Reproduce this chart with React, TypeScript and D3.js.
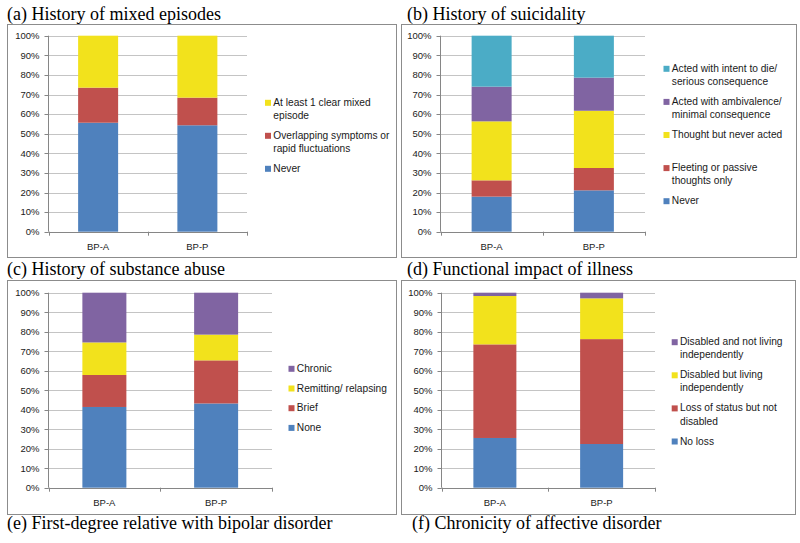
import React from "react";
import * as d3 from "d3";

// ---------- data ----------
const categories = ["BP-A", "BP-P"];
const yTickValues = [0, 10, 20, 30, 40, 50, 60, 70, 80, 90, 100];

// (a) History of mixed episodes
const mixedNever = [55.6, 54.3];
const mixedOverlapping = [17.9, 14.1];
const mixedClear = [26.5, 31.6];

// (b) History of suicidality
const suicNever = [17.9, 21.1];
const suicFleeting = [8.3, 11.4];
const suicThought = [30.1, 29.2];
const suicAmbivalence = [17.7, 16.9];
const suicIntent = [26.0, 21.4];

// (c) History of substance abuse
const subNone = [41.4, 43.2];
const subBrief = [16.4, 22.1];
const subRemitting = [16.7, 13.2];
const subChronic = [25.5, 21.5];

// (d) Functional impact of illness
const funcNoLoss = [25.5, 22.4];
const funcLossStatus = [48.0, 53.8];
const funcDisabledLiving = [24.8, 20.9];
const funcDisabledNot = [1.7, 2.9];

const titles = [
  "(a) History of mixed episodes",
  "(b) History of suicidality",
  "(c) History of substance abuse",
  "(d) Functional impact of illness",
  "(e) First-degree relative with bipolar disorder",
  "(f) Chronicity of affective disorder",
];

// ---------- styles ----------
const BLUE = "#4F81BD";
const RED = "#C0504D";
const YELLOW = "#F2E21C";
const PURPLE = "#8064A2";
const TEAL = "#4BACC6";

type Series = { lines: string[]; values: number[]; color: string };
type PanelCfg = {
  title: string;
  titleX: number;
  titleY: number;
  box: [number, number, number, number];
  plot: { x0: number; x1: number; y0: number; y1: number };
  barWidth: number;
  series: Series[];
  legend: { x: number; y: number; step: number };
};

const panels: PanelCfg[] = [
  {
    title: titles[0],
    titleX: 7,
    titleY: 19.5,
    box: [7.5, 24.5, 396.5, 257.5],
    plot: { x0: 48.5, x1: 247, y0: 35.7, y1: 231.7 },
    barWidth: 40,
    series: [
      { lines: ["Never"], values: mixedNever, color: BLUE },
      { lines: ["Overlapping symptoms or", "rapid fluctuations"], values: mixedOverlapping, color: RED },
      { lines: ["At least 1 clear mixed", "episode"], values: mixedClear, color: YELLOW },
    ],
    legend: { x: 265, y: 102.3, step: 33 },
  },
  {
    title: titles[1],
    titleX: 407,
    titleY: 19.5,
    box: [401.5, 24.5, 796.5, 257.5],
    plot: { x0: 440.5, x1: 645, y0: 35.7, y1: 231.7 },
    barWidth: 40,
    series: [
      { lines: ["Never"], values: suicNever, color: BLUE },
      { lines: ["Fleeting or passive", "thoughts only"], values: suicFleeting, color: RED },
      { lines: ["Thought but never acted"], values: suicThought, color: YELLOW },
      { lines: ["Acted with ambivalence/", "minimal consequence"], values: suicAmbivalence, color: PURPLE },
      { lines: ["Acted with intent to die/", "serious consequence"], values: suicIntent, color: TEAL },
    ],
    legend: { x: 663.5, y: 68.3, step: 33.1 },
  },
  {
    title: titles[2],
    titleX: 7,
    titleY: 275,
    box: [7.5, 280.5, 396.5, 514.5],
    plot: { x0: 48.5, x1: 272, y0: 292.7, y1: 487.7 },
    barWidth: 44,
    series: [
      { lines: ["None"], values: subNone, color: BLUE },
      { lines: ["Brief"], values: subBrief, color: RED },
      { lines: ["Remitting/ relapsing"], values: subRemitting, color: YELLOW },
      { lines: ["Chronic"], values: subChronic, color: PURPLE },
    ],
    legend: { x: 288.5, y: 368.3, step: 19.7 },
  },
  {
    title: titles[3],
    titleX: 407,
    titleY: 275,
    box: [401.5, 280.5, 795.5, 514.5],
    plot: { x0: 441.5, x1: 655, y0: 292.7, y1: 487.7 },
    barWidth: 43,
    series: [
      { lines: ["No loss"], values: funcNoLoss, color: BLUE },
      { lines: ["Loss of status but not", "disabled"], values: funcLossStatus, color: RED },
      { lines: ["Disabled but living", "independently"], values: funcDisabledLiving, color: YELLOW },
      { lines: ["Disabled and not living", "independently"], values: funcDisabledNot, color: PURPLE },
    ],
    legend: { x: 671.7, y: 341.7, step: 33.1 },
  },
];

const SANS = "'Liberation Sans', Arial, sans-serif";
const SERIF = "'Liberation Serif', 'Times New Roman', serif";
const FS = 9.5;
const LFS = 10.2;
const LINE_H = 13.1;
const TEXT = "#1a1a1a";

function Panel({ cfg }: { cfg: PanelCfg }) {
  const { plot, box, series, legend } = cfg;
  const y = d3.scaleLinear().domain([0, 100]).range([plot.y1, plot.y0]);
  const x = d3.scaleBand<string>().domain(categories).range([plot.x0, plot.x1]).padding(0);
  const keys = series.map((_, i) => `s${i}`);
  const rows = categories.map((c, ci) => {
    const r: Record<string, any> = { cat: c };
    series.forEach((s, i) => (r[`s${i}`] = s.values[ci]));
    return r;
  });
  const stacked = d3.stack<Record<string, any>>().keys(keys)(rows);
  const fmt = (v: number) => `${v}%`;
  const boundaries = [plot.x0, ...categories.map((c) => (x(c) as number) + x.bandwidth())];

  const legendOrder = series.map((s, i) => ({ s, i })).reverse();

  return (
    <g>
      <rect
        x={box[0]}
        y={box[1]}
        width={box[2] - box[0]}
        height={box[3] - box[1]}
        fill="#fff"
        stroke="#8c8c8c"
        strokeWidth={1}
      />
      {yTickValues.map((t) => (
        <line
          key={`g${t}`}
          x1={plot.x0}
          x2={plot.x1}
          y1={Math.round(y(t)) + 0.5}
          y2={Math.round(y(t)) + 0.5}
          stroke="#c4c4c4"
          strokeWidth={1}
        />
      ))}
      {stacked.map((layer, li) =>
        layer.map((d, di) => {
          const cat = categories[di];
          const cx = (x(cat) as number) + x.bandwidth() / 2;
          return (
            <rect
              key={`b${li}-${di}`}
              x={cx - cfg.barWidth / 2}
              y={y(d[1])}
              width={cfg.barWidth}
              height={y(d[0]) - y(d[1])}
              fill={series[li].color}
            />
          );
        })
      )}
      <line x1={plot.x0} x2={plot.x0} y1={plot.y0} y2={plot.y1} stroke="#868686" />
      {yTickValues.map((t) => (
        <g key={`t${t}`}>
          <line
            x1={plot.x0 - 4}
            x2={plot.x0}
            y1={Math.round(y(t)) + 0.5}
            y2={Math.round(y(t)) + 0.5}
            stroke="#868686"
          />
          <text
            x={plot.x0 - 9}
            y={y(t)}
            dy="0.35em"
            textAnchor="end"
            fontFamily={SANS}
            fontSize={FS}
            fill={TEXT}
          >
            {fmt(t)}
          </text>
        </g>
      ))}
      <line
        x1={plot.x0}
        x2={plot.x1}
        y1={Math.round(plot.y1) + 0.5}
        y2={Math.round(plot.y1) + 0.5}
        stroke="#868686"
      />
      {boundaries.map((bx, i) => (
        <line
          key={`xt${i}`}
          x1={Math.round(bx) + 0.5}
          x2={Math.round(bx) + 0.5}
          y1={plot.y1}
          y2={plot.y1 + 4}
          stroke="#868686"
        />
      ))}
      {categories.map((c) => (
        <text
          key={`xl${c}`}
          x={(x(c) as number) + x.bandwidth() / 2}
          y={plot.y1 + 15}
          dy="0.35em"
          textAnchor="middle"
          fontFamily={SANS}
          fontSize={FS}
          fill={TEXT}
        >
          {c}
        </text>
      ))}
      {legendOrder.map(({ s, i }, k) => {
        const ly = legend.y + k * legend.step;
        return (
          <g key={`l${i}`}>
            <rect x={legend.x} y={ly - 2.5} width={6} height={6} fill={s.color} />
            {s.lines.map((ln, j) => (
              <text
                key={j}
                x={legend.x + 8.3}
                y={ly + j * LINE_H}
                dy="0.35em"
                fontFamily={SANS}
                fontSize={LFS}
                fill={TEXT}
              >
                {ln}
              </text>
            ))}
          </g>
        );
      })}
      <text x={cfg.titleX} y={cfg.titleY} fontFamily={SERIF} fontSize={18} fill="#000">
        {cfg.title}
      </text>
    </g>
  );
}

export default function App() {
  return (
    <svg
      width={800}
      height={543}
      viewBox="0 0 800 543"
      style={{ position: "absolute", left: 0, top: 0, background: "#fff" }}
    >
      <rect x={0} y={0} width={800} height={543} fill="#fff" />
      {panels.map((p, i) => (
        <Panel key={i} cfg={p} />
      ))}
      <text x={7} y={529} fontFamily={SERIF} fontSize={18} fill="#000">
        {titles[4]}
      </text>
      <text x={412} y={529} fontFamily={SERIF} fontSize={18} fill="#000">
        {titles[5]}
      </text>
    </svg>
  );
}
